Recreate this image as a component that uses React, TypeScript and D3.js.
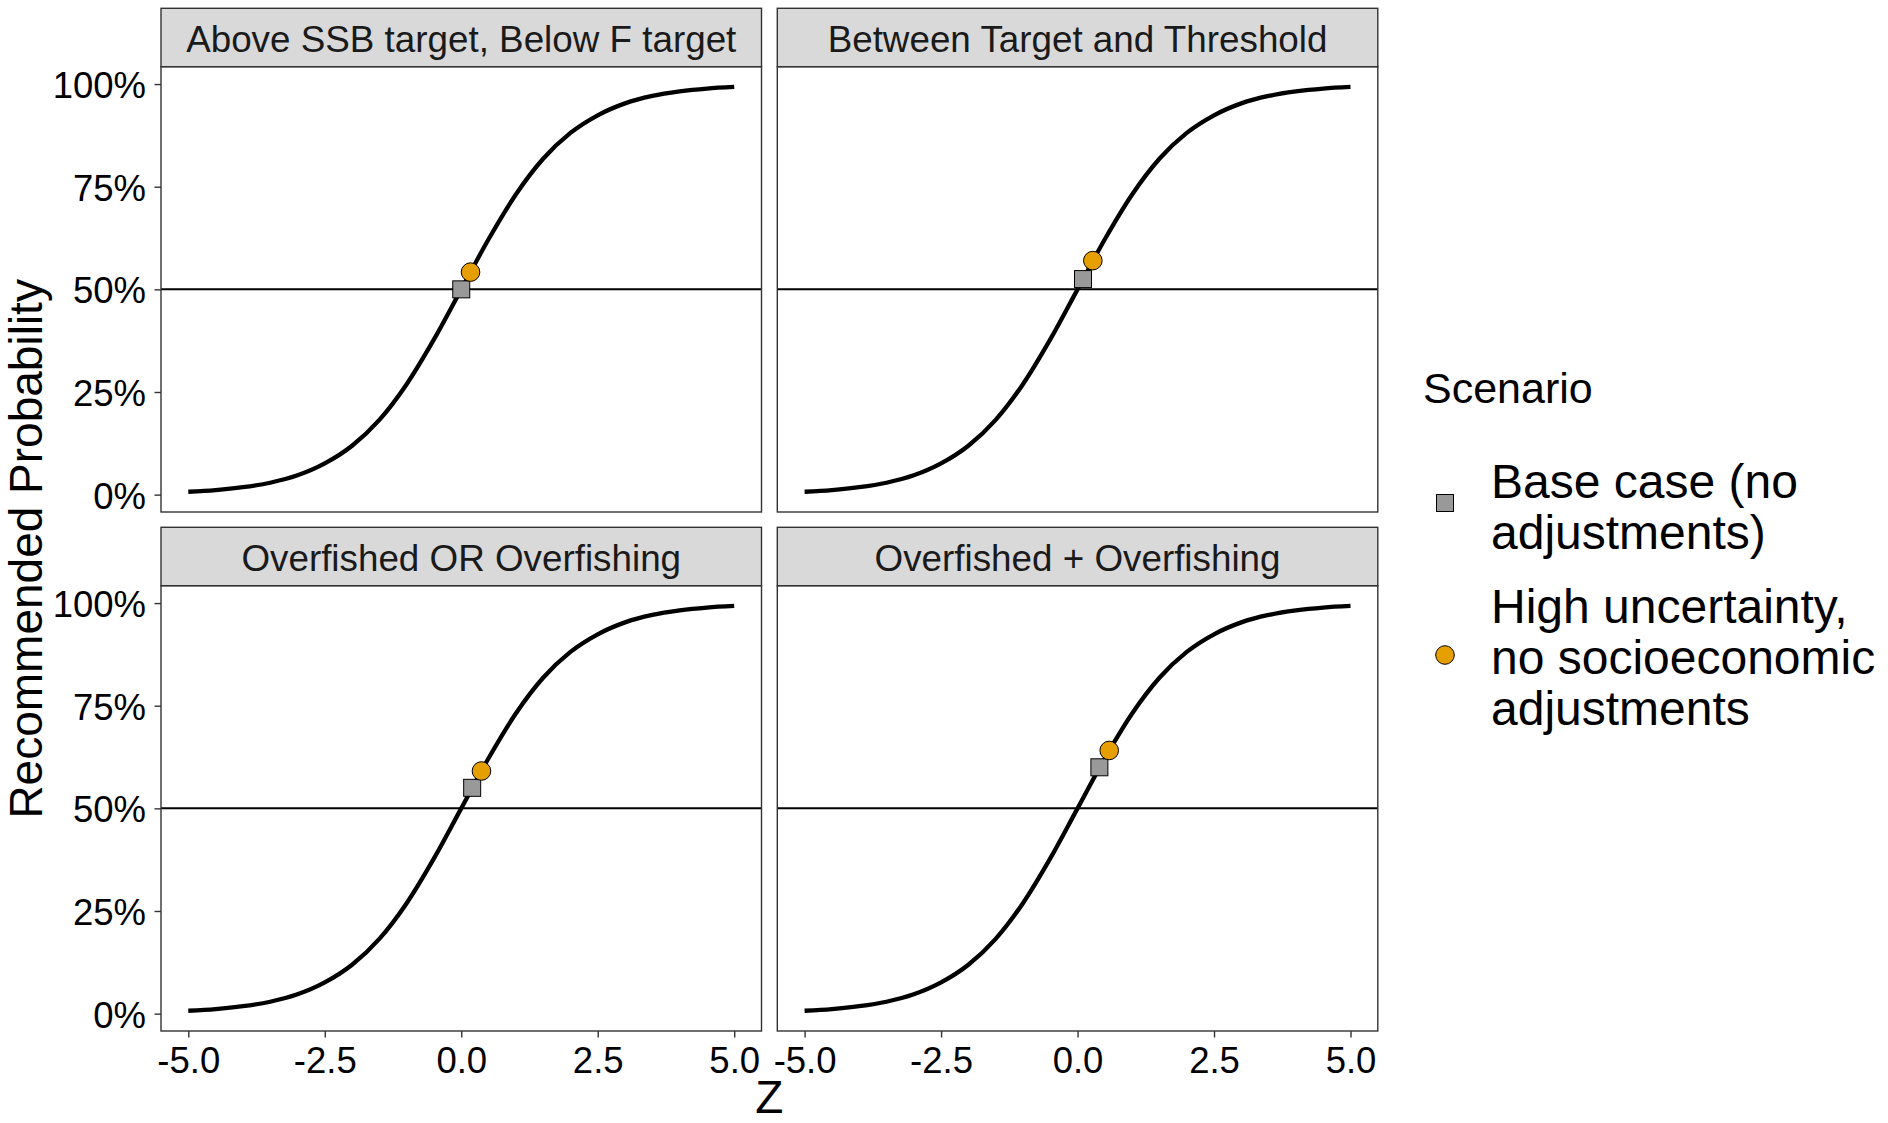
import * as d3 from 'd3';
import { useRef, useEffect } from 'react';

// facet titles, in reading order
const facets = [
  'Above SSB target, Below F target',
  'Between Target and Threshold',
  'Overfished OR Overfishing',
  'Overfished + Overfishing',
];

// fitted curve, same in every facet
const curveZ = [-5, -4.5, -4, -3.5, -3, -2.5, -2, -1.5, -1, -0.5, 0, 0.5, 1, 1.5, 2, 2.5, 3, 3.5, 4, 4.5, 5];
const curveP = [0.007, 0.011, 0.018, 0.029, 0.047, 0.076, 0.119, 0.182, 0.269, 0.378, 0.5, 0.622, 0.731, 0.818, 0.881, 0.924, 0.953, 0.971, 0.982, 0.989, 0.993];

// scenario points, one per facet
const baseZ = [0, 0.1, 0.2, 0.4];
const baseP = [0.5, 0.525, 0.55, 0.6];
const highZ = [0.17, 0.28, 0.37, 0.58];
const highP = [0.542, 0.57, 0.591, 0.641];

const legendLabels = [
  ['Base case (no', 'adjustments)'],
  ['High uncertainty,', 'no socioeconomic', 'adjustments'],
];

const xTicks = [-5, -2.5, 0, 2.5, 5];
const yTicks = [0, 0.25, 0.5, 0.75, 1];
const refLine = 0.5;

export default function App() {
  const svgRef = useRef(null);

  useEffect(() => {
    const width = 1888;
    const height = 1123;
    const colX = [161, 777.3];
    const rowTop = [8.3, 527.3];
    const panelW = 600.5;
    const stripH = 58.4;
    const panelH = 445.3;
    const font = "'Liberation Sans', Arial, sans-serif";
    const grey20 = '#333333';

    // ggplot style 5% expansion of the data range
    const xExt = d3.extent(curveZ);
    const yExt = d3.extent(curveP);
    const xPad = (xExt[1] - xExt[0]) * 0.05;
    const yPad = (yExt[1] - yExt[0]) * 0.05;

    const x = d3.scaleLinear().domain([xExt[0] - xPad, xExt[1] + xPad]).range([0, panelW]);
    const y = d3.scaleLinear().domain([yExt[0] - yPad, yExt[1] + yPad]).range([panelH, 0]);

    const line = d3.line()
      .x((d) => x(d[0]))
      .y((d) => y(d[1]))
      .curve(d3.curveMonotoneX);
    const curveData = curveZ.map((z, i) => [z, curveP[i]]);

    const svg = d3.select(svgRef.current)
      .attr('width', width)
      .attr('height', height)
      .style('font-family', font);
    svg.selectAll('*').remove();

    svg.append('rect').attr('width', width).attr('height', height).attr('fill', 'white');

    facets.forEach((name, i) => {
      const col = i % 2;
      const row = Math.floor(i / 2);
      const g = svg.append('g')
        .attr('transform', `translate(${colX[col]}, ${rowTop[row] + stripH})`);

      // strip
      svg.append('rect')
        .attr('x', colX[col])
        .attr('y', rowTop[row])
        .attr('width', panelW)
        .attr('height', stripH)
        .attr('fill', '#D9D9D9')
        .attr('stroke', grey20)
        .attr('stroke-width', 1.4);
      svg.append('text')
        .attr('x', colX[col] + panelW / 2)
        .attr('y', rowTop[row] + stripH / 2 + 14)
        .attr('text-anchor', 'middle')
        .attr('font-size', 36.8)
        .attr('fill', '#1A1A1A')
        .text(name);

      // reference line at 50%
      g.append('line')
        .attr('x1', 0)
        .attr('x2', panelW)
        .attr('y1', y(refLine))
        .attr('y2', y(refLine))
        .attr('stroke', 'black')
        .attr('stroke-width', 2);

      g.append('path')
        .datum(curveData)
        .attr('d', line)
        .attr('fill', 'none')
        .attr('stroke', 'black')
        .attr('stroke-width', 4.3);

      // base case square
      const s = 17;
      g.append('rect')
        .attr('x', x(baseZ[i]) - s / 2)
        .attr('y', y(baseP[i]) - s / 2)
        .attr('width', s)
        .attr('height', s)
        .attr('fill', '#999999')
        .attr('stroke', 'black')
        .attr('stroke-width', 1);

      // high uncertainty circle
      g.append('circle')
        .attr('cx', x(highZ[i]))
        .attr('cy', y(highP[i]))
        .attr('r', 9.3)
        .attr('fill', '#E69F00')
        .attr('stroke', 'black')
        .attr('stroke-width', 1);

      g.append('rect')
        .attr('width', panelW)
        .attr('height', panelH)
        .attr('fill', 'none')
        .attr('stroke', grey20)
        .attr('stroke-width', 1.4);

      if (col === 0) {
        const ax = g.append('g')
          .call(d3.axisLeft(y).tickValues(yTicks).tickFormat(d3.format('.0%')).tickSize(6.5).tickPadding(8.5));
        ax.select('.domain').remove();
        ax.attr('font-family', null);
        ax.selectAll('line').attr('stroke', grey20).attr('stroke-width', 1.4);
        ax.selectAll('text')
          .attr('font-size', 36.5)
          .attr('fill', 'black')
          .attr('dy', '0.37em');
      }
      if (row === 1) {
        const ax = g.append('g')
          .attr('transform', `translate(0, ${panelH})`)
          .call(d3.axisBottom(x).tickValues(xTicks).tickFormat((d) => d.toFixed(1)).tickSize(6.5).tickPadding(9.5));
        ax.select('.domain').remove();
        ax.attr('font-family', null);
        ax.selectAll('line').attr('stroke', grey20).attr('stroke-width', 1.4);
        ax.selectAll('text')
          .attr('font-size', 36.5)
          .attr('fill', 'black');
      }
    });

    // axis titles
    svg.append('text')
      .attr('x', (colX[0] + colX[1] + panelW) / 2)
      .attr('y', 1113)
      .attr('text-anchor', 'middle')
      .attr('font-size', 46)
      .text('Z');
    svg.append('text')
      .attr('transform', `translate(42, ${(rowTop[0] + stripH + rowTop[1] + stripH + panelH) / 2}) rotate(-90)`)
      .attr('text-anchor', 'middle')
      .attr('font-size', 46)
      .text('Recommended Probability');

    // legend
    const legend = svg.append('g');
    legend.append('text')
      .attr('x', 1423)
      .attr('y', 403)
      .attr('font-size', 43)
      .text('Scenario');

    legend.append('rect')
      .attr('x', 1445 - 8.5)
      .attr('y', 503 - 8.5)
      .attr('width', 17)
      .attr('height', 17)
      .attr('fill', '#999999')
      .attr('stroke', 'black')
      .attr('stroke-width', 1);
    legend.append('circle')
      .attr('cx', 1445)
      .attr('cy', 655)
      .attr('r', 9.3)
      .attr('fill', '#E69F00')
      .attr('stroke', 'black')
      .attr('stroke-width', 1);

    const firstBaseline = [498, 623];
    legendLabels.forEach((lines, k) => {
      const t = legend.append('text')
        .attr('x', 1491)
        .attr('y', firstBaseline[k])
        .attr('font-size', 48);
      lines.forEach((ln, j) => {
        t.append('tspan')
          .attr('x', 1491)
          .attr('dy', j === 0 ? 0 : 51)
          .text(ln);
      });
    });
  }, []);

  return (
    <div style={{ position: 'absolute', left: 0, top: 0 }}>
      <svg ref={svgRef} style={{ display: 'block' }}></svg>
    </div>
  );
}
